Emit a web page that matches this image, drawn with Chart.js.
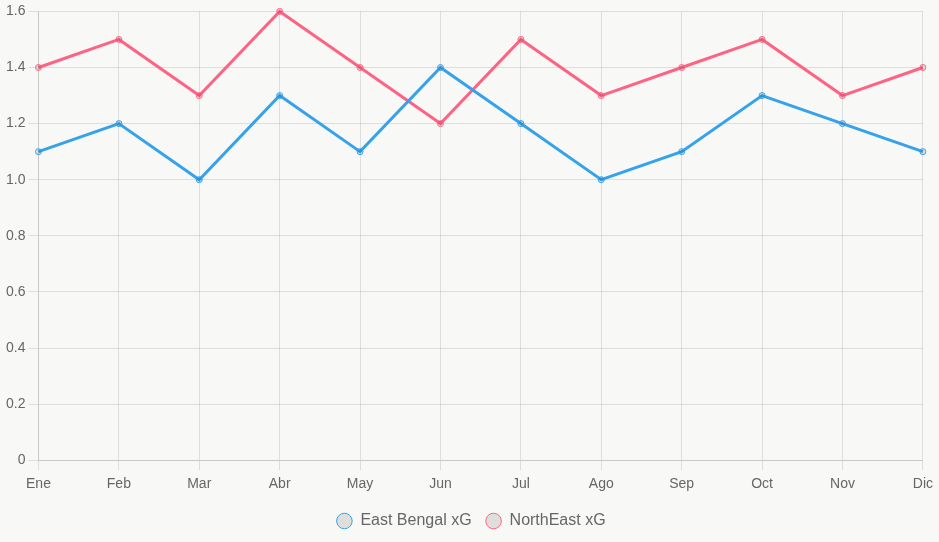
<!DOCTYPE html>
<html>
<head>
<meta charset="utf-8">
<script src="https://cdn.jsdelivr.net/npm/chart.js@4"></script>
<style>
  html, body { margin: 0; padding: 0; background: #f8f8f6; }
  #wrap { width: 939px; height: 542px; position: relative; }
</style>
</head>
<body>
<div id="wrap"><canvas id="myChart"></canvas></div>
<script>
const months = ['Ene', 'Feb', 'Mar', 'Abr', 'May', 'Jun', 'Jul', 'Ago', 'Sep', 'Oct', 'Nov', 'Dic']
const eastBengal = [1.1, 1.2, 1.0, 1.3, 1.1, 1.4, 1.2, 1.0, 1.1, 1.3, 1.2, 1.1]
const northEast = [1.4, 1.5, 1.3, 1.6, 1.4, 1.2, 1.5, 1.3, 1.4, 1.5, 1.3, 1.4]

Chart.defaults.color = '#666'
Chart.defaults.font.size = 14

const ctx = document.getElementById('myChart')
new Chart(ctx, {
    type: 'line',
    data: {
        labels: months,
        datasets: [{
                label: 'East Bengal xG',
                data: eastBengal,
                borderColor: 'rgb(54, 162, 235)',
                borderWidth: 3,
                pointBorderWidth: 1
            },
            {
                label: 'NorthEast xG',
                data: northEast,
                borderColor: 'rgb(255, 99, 132)',
                borderWidth: 3,
                pointBorderWidth: 1
            }
        ]
    },
    options: {
        animation: false,
        responsive: true,
        maintainAspectRatio: false,
        layout: {
            padding: { left: 3, right: 0, top: 1, bottom: 3 }
        },
        scales: {
            x: {
                grid: { tickLength: 10 },
                ticks: { padding: 6 }
            },
            y: {
                beginAtZero: true,
                grid: { tickLength: 10 }
            }
        },
        plugins: {
            legend: {
                position: 'bottom',
                labels: {
                    usePointStyle: true,
                    boxHeight: 11,
                    padding: 14,
                    font: { size: 16 },
                    generateLabels(chart) {
                        const items = Chart.defaults.plugins.legend.labels.generateLabels(chart)
                        items.forEach(i => { i.lineWidth = 1 })
                        return items
                    }
                }
            }
        }
    }
})
</script>
</body>
</html>
